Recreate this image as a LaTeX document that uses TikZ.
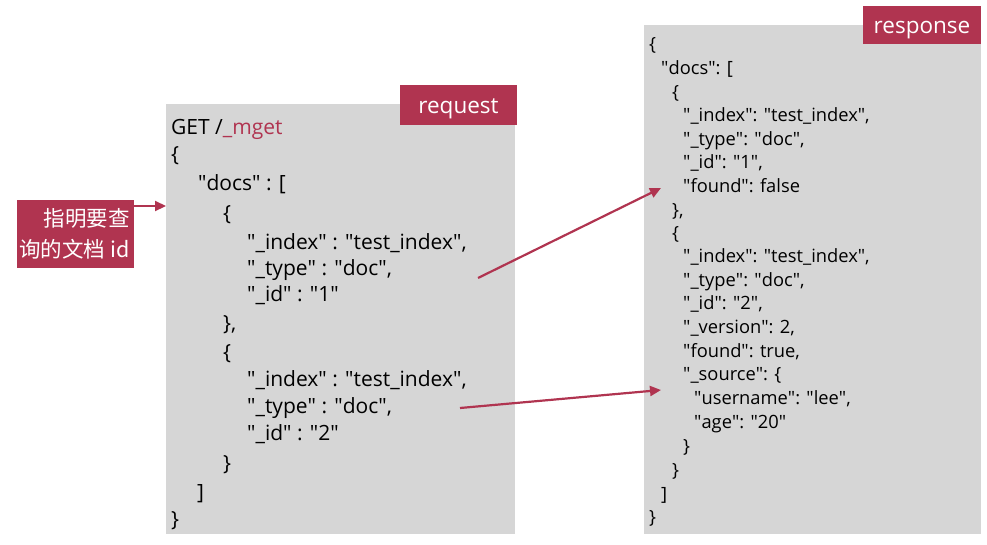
\documentclass[tikz,border=0pt]{standalone}
\usepackage{fontspec}
\setmainfont{Open Sans}
\newfontfamily\cjk{Noto Sans CJK SC}
\usetikzlibrary{arrows.meta}
\definecolor{panel}{RGB}{214,214,214}
\definecolor{accent}{RGB}{176,52,80}
\newcommand\qq{\textquotedbl}
\tikzset{
  panelbox/.style={fill=panel, draw=none, inner sep=0pt},
  tagbox/.style={fill=accent, draw=none, text=white, inner sep=0pt, font=\fontsize{22.5}{26}\selectfont,
                 text height=16pt, text depth=0pt},
  reqline/.style={anchor=base west, inner sep=0pt, font=\fontsize{21}{24}\selectfont},
  resline/.style={anchor=base west, inner sep=0pt, font=\fontsize{18.3}{21}\selectfont},
  conn/.style={draw=accent, line width=2.2pt, -{Triangle[length=11pt,width=10pt]}},
}
\begin{document}
\begin{tikzpicture}[x=1pt,y=-1pt]
\useasboundingbox (0,0) rectangle (987,544);
% panels
\path[panelbox] (166,104) rectangle (515,534);
\path[panelbox] (644,25) rectangle (981,534);
% tags
\node[tagbox, minimum width=117pt, minimum height=40pt] (reqtag) at (458.5,105) {request};
\node[tagbox, minimum width=118pt, minimum height=38pt] (restag) at (922,25) {response};
% left label
\node[fill=accent, text=white, inner sep=0pt, minimum width=117pt, minimum height=68pt,
      align=right, font=\cjk\fontsize{21.5}{31}\selectfont] (lbl) at (75.5,234) {指明要查\hspace*{2pt}\\询的文档 id\hspace*{2pt}};
\coordinate (lblout) at (133,206);
\coordinate (reqin) at (166,206);
\draw[conn] (lblout) -- (reqin);
% request text
\node[reqline] (r1) at (171,134) {GET /\textcolor{accent}{\_mget}};
\node[reqline] (r2) at (171,161) {\{};
\node[reqline] (r3) at (198,190) {\qq docs\qq{} : [};
\node[reqline] (r4) at (223,220) {\{};
\node[reqline] (r5) at (247,249) {\qq\_index\qq{} : \qq test\_index\qq,};
\node[reqline] (r6) at (247,275) {\qq\_type\qq{} : \qq doc\qq,};
\node[reqline] (r7) at (247,301) {\qq\_id\qq{} : \qq 1\qq};
\node[reqline] (r8) at (223,330) {\},};
\node[reqline] (r9) at (223,359) {\{};
\node[reqline] (r10) at (247,386) {\qq\_index\qq{} : \qq test\_index\qq,};
\node[reqline] (r11) at (247,413) {\qq\_type\qq{} : \qq doc\qq,};
\node[reqline] (r12) at (247,440) {\qq\_id\qq{} : \qq 2\qq};
\node[reqline] (r13) at (223,470) {\}};
\node[reqline] (r14) at (197,499) {]};
\node[reqline] (r15) at (171,526) {\}};
% response text
\node[resline] (s1) at (649,50) {\{};
\node[resline] (s2) at (661,74) {\qq docs\qq: [};
\node[resline] (s3) at (672,98) {\{};
\node[resline] (s4) at (683,121) {\qq\_index\qq: \qq test\_index\qq,};
\node[resline] (s5) at (683,145) {\qq\_type\qq: \qq doc\qq,};
\node[resline] (s6) at (683,168) {\qq\_id\qq: \qq 1\qq,};
\node[resline] (s7) at (683,192) {\qq found\qq: false};
\node[resline] (s8) at (672,216) {\},};
\node[resline] (s9) at (672,239) {\{};
\node[resline] (s10) at (683,262) {\qq\_index\qq: \qq test\_index\qq,};
\node[resline] (s11) at (683,286) {\qq\_type\qq: \qq doc\qq,};
\node[resline] (s12) at (683,309) {\qq\_id\qq: \qq 2\qq,};
\node[resline] (s13) at (683,333) {\qq\_version\qq: 2,};
\node[resline] (s14) at (683,357) {\qq found\qq: true,};
\node[resline] (s15) at (683,380) {\qq\_source\qq: \{};
\node[resline] (s16) at (694,404) {\qq username\qq: \qq lee\qq,};
\node[resline] (s17) at (694,428) {\qq age\qq: \qq 20\qq};
\node[resline] (s18) at (683,452) {\}};
\node[resline] (s19) at (672,476) {\}};
\node[resline] (s20) at (661,500) {]};
\node[resline] (s21) at (649,523) {\}};
% connectors
\coordinate (a1s) at (478,278);
\coordinate (a1e) at (661,188);
\draw[conn] (a1s) -- (a1e);
\coordinate (a2s) at (460,408);
\coordinate (a2e) at (661,390);
\draw[conn] (a2s) -- (a2e);
\end{tikzpicture}
\end{document}
